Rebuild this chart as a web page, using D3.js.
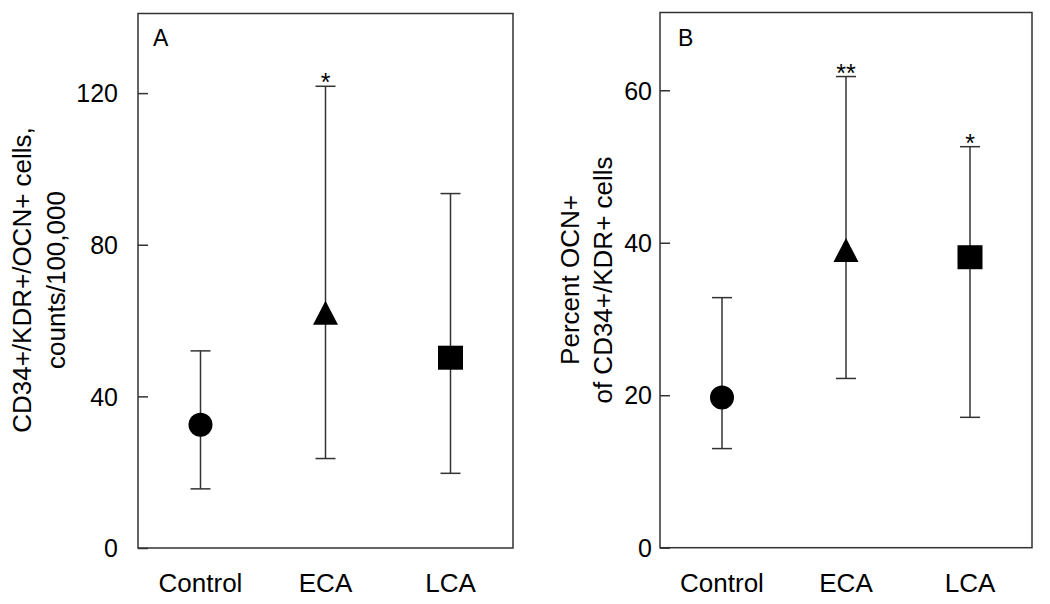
<!DOCTYPE html>
<html><head><meta charset="utf-8">
<script src="https://cdn.jsdelivr.net/npm/d3@7"></script>
<style>body{margin:0;background:#fff}text{font-family:"Liberation Sans",Arial,sans-serif;fill:#000}</style>
</head><body><svg id="c" width="1050" height="604"></svg>
<script>
const categories = ["Control", "ECA", "LCA"];
const shapes = ["circle", "triangle", "square"];
// Panel A: counts/100,000
const meanA = [32.5, 61.5, 50.2];
const lowA = [15.6, 23.6, 19.7];
const highA = [52, 121.8, 93.5];
const sigA = ["", "*", ""];
const ticksA = [0, 40, 80, 120];
// Panel B: percent
const meanB = [19.7, 38.8, 38.1];
const lowB = [13.0, 22.2, 17.1];
const highB = [32.8, 61.8, 52.6];
const sigB = ["", "**", "*"];
const ticksB = [0, 20, 40, 60];

const svg = d3.select("#c");
const stroke = "#333";

function panel(o) {
  const g = svg.append("g");
  const x = d3.scalePoint().domain(categories).range([o.x0, o.x1]).padding(0.5);
  const y = d3.scaleLinear().domain([0, o.max]).range([o.y1, o.y0]);
  g.append("rect").attr("x", o.x0).attr("y", o.y0).attr("width", o.x1 - o.x0).attr("height", o.y1 - o.y0)
    .attr("fill", "none").attr("stroke", stroke).attr("stroke-width", 1.5);
  const ax = g.append("g").attr("transform", `translate(${o.x0},0)`)
    .call(d3.axisRight(y).tickValues(o.ticks).tickSize(10).tickFormat(d3.format("d")));
  ax.select(".domain").remove();
  ax.selectAll(".tick line").attr("stroke", stroke).attr("stroke-width", 1.5);
  ax.selectAll(".tick text").attr("x", -o.labGap).attr("text-anchor", "end").attr("dy", "0.35em")
    .style("font-size", "25px").attr("fill", "#000");
  g.selectAll(".xl").data(categories).join("text").attr("class", "xl")
    .attr("x", d => x(d)).attr("y", 592).attr("text-anchor", "middle").style("font-size", "26px").text(d => d);
  g.append("text").attr("x", o.x0 + o.letterDx).attr("y", 46).style("font-size", "23px").text(o.letter);
  o.title.forEach((t, i) => {
    g.append("text").attr("transform", `translate(${o.tx[i]},${o.ty}) rotate(-90)`)
      .attr("text-anchor", "middle").attr("dy", "0.35em").style("font-size", "26px").text(t);
  });
  const capW = 10;
  categories.forEach((c, i) => {
    const cx = x(c);
    g.append("line").attr("x1", cx).attr("x2", cx).attr("y1", y(o.low[i])).attr("y2", y(o.high[i]))
      .attr("stroke", stroke).attr("stroke-width", 1.5);
    [o.low[i], o.high[i]].forEach(v => g.append("line").attr("x1", cx - capW).attr("x2", cx + capW)
      .attr("y1", y(v)).attr("y2", y(v)).attr("stroke", stroke).attr("stroke-width", 1.5));
    const cy = y(o.mean[i]);
    if (shapes[i] === "circle") g.append("circle").attr("cx", cx).attr("cy", cy).attr("r", 12).attr("fill", "#000");
    else if (shapes[i] === "triangle") g.append("path").attr("d", `M${cx},${cy - 14}L${cx + 12.5},${cy + 10}L${cx - 12.5},${cy + 10}Z`).attr("fill", "#000");
    else g.append("rect").attr("x", cx - 12.5).attr("y", cy - 12).attr("width", 25).attr("height", 24).attr("fill", "#000");
    if (o.sig[i]) g.append("text").attr("x", cx).attr("y", y(o.high[i]) + 5).attr("text-anchor", "middle")
      .style("font-size", "25px").text(o.sig[i]);
  });
}

panel({x0: 138, x1: 513, y0: 13.5, y1: 548, max: 141, ticks: ticksA, labGap: 20,
  mean: meanA, low: lowA, high: highA, sig: sigA, letter: "A", letterDx: 15,
  title: ["CD34+/KDR+/OCN+ cells,", "counts/100,000"], tx: [22, 56], ty: 280});
panel({x0: 660, x1: 1032, y0: 12.5, y1: 547.7, max: 70.2, ticks: ticksB, labGap: 8,
  mean: meanB, low: lowB, high: highB, sig: sigB, letter: "B", letterDx: 18,
  title: ["Percent OCN+", "of CD34+/KDR+ cells"], tx: [570, 603], ty: 280});
</script></body></html>
